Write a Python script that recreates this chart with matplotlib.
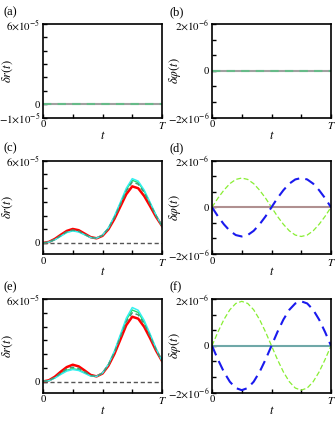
import numpy as np
import matplotlib
matplotlib.use('Agg')
import matplotlib.pyplot as plt

plt.rcParams['font.family'] = 'Liberation Serif'
plt.rcParams['mathtext.fontset'] = 'stix'

# time axis (units of T)
t = np.linspace(0, 1, 21)

# delta r(t) curves, units of 1e-5
red_c = [0, 0.08, 0.3, 0.6, 0.88, 1.02, 0.93, 0.68, 0.43, 0.34, 0.52, 1.0, 1.75, 2.65, 3.55, 4.12, 3.98, 3.42, 2.68, 1.9, 1.24]
cyan_c = [0, 0.06, 0.24, 0.5, 0.76, 0.88, 0.8, 0.6, 0.4, 0.35, 0.57, 1.1, 1.95, 2.95, 3.98, 4.68, 4.5, 3.85, 2.95, 2.02, 1.24]
green_c = [0, 0.065, 0.25, 0.52, 0.79, 0.9, 0.83, 0.62, 0.4, 0.35, 0.56, 1.08, 1.9, 2.88, 3.88, 4.56, 4.4, 3.77, 2.9, 2.0, 1.24]
dash_c = [0, 0.07, 0.27, 0.55, 0.82, 0.94, 0.86, 0.64, 0.41, 0.35, 0.55, 1.05, 1.85, 2.8, 3.78, 4.44, 4.28, 3.68, 2.84, 1.97, 1.24]

red_e = [0, 0.09, 0.35, 0.72, 1.05, 1.22, 1.1, 0.8, 0.48, 0.37, 0.58, 1.15, 2.0, 3.05, 4.1, 4.71, 4.57, 3.98, 3.15, 2.25, 1.49]
cyan_e = [0, 0.06, 0.25, 0.52, 0.76, 0.87, 0.8, 0.6, 0.4, 0.37, 0.62, 1.25, 2.2, 3.4, 4.6, 5.38, 5.18, 4.45, 3.45, 2.4, 1.49]
green_e = [0, 0.065, 0.27, 0.56, 0.82, 0.93, 0.85, 0.63, 0.41, 0.37, 0.61, 1.22, 2.15, 3.32, 4.48, 5.2, 5.02, 4.32, 3.38, 2.36, 1.49]
dash_e = [0, 0.07, 0.3, 0.62, 0.92, 1.04, 0.95, 0.7, 0.44, 0.37, 0.6, 1.2, 2.1, 3.22, 4.35, 5.0, 4.85, 4.2, 3.3, 2.32, 1.49]

# delta phi(t) curves, units of 1e-6
green_d = [0, 0.39, 0.73, 1.01, 1.19, 1.25, 1.19, 1.01, 0.73, 0.39, 0, -0.39, -0.73, -1.01, -1.19, -1.25, -1.19, -1.01, -0.73, -0.39, 0]
blue_d = [0, -0.39, -0.73, -1.01, -1.19, -1.25, -1.19, -1.01, -0.73, -0.39, 0, 0.39, 0.73, 1.01, 1.19, 1.25, 1.19, 1.01, 0.73, 0.39, 0]
green_f = [0, 0.59, 1.12, 1.54, 1.81, 1.9, 1.81, 1.54, 1.12, 0.59, 0, -0.59, -1.12, -1.54, -1.81, -1.9, -1.81, -1.54, -1.12, -0.59, 0]
blue_f = [0, -0.59, -1.12, -1.54, -1.81, -1.9, -1.81, -1.54, -1.12, -0.59, 0, 0.59, 1.12, 1.54, 1.81, 1.9, 1.81, 1.54, 1.12, 0.59, 0]

zero = np.zeros(len(t))

panel_labels = ['(a)', '(b)', '(c)', '(d)', '(e)', '(f)']

fig = plt.figure(figsize=(3.35, 4.22), dpi=100)
W, H = 335., 422.
lefts = [43, 212]
tops = [24, 160.5, 299]
aw, ah = 119, 93.5

axes = []
for r in range(3):
    for c in range(2):
        ax = fig.add_axes([lefts[c] / W, 1 - (tops[r] + ah) / H, aw / W, ah / H])
        axes.append(ax)


def style_r(ax, ymin, show_min):
    ax.set_ylim(ymin, 6e-5)
    ticks = np.arange(-1, 7) * 1e-5
    labels = [r'$-1{\times}10^{-5}$', '0', '', '', '', '', '', r'$6{\times}10^{-5}$']
    if not show_min:
        ticks = ticks[1:]
        labels = labels[1:]
    ax.set_yticks(ticks)
    ax.set_yticklabels(labels)
    ax.set_ylabel(r'$\delta r(t)$', fontsize=9)
    ax.yaxis.set_label_coords(-0.235, 0.5)


def style_p(ax):
    ax.set_ylim(-2e-6, 2e-6)
    ax.set_yticks(np.linspace(-2e-6, 2e-6, 7))
    ax.set_yticklabels([r'$-2{\times}10^{-6}$', '', '', '0', '', '', r'$2{\times}10^{-6}$'])
    ax.set_ylabel(r'$\delta\varphi(t)$', fontsize=9)
    ax.yaxis.set_label_coords(-0.245, 0.5)


for i, ax in enumerate(axes):
    ax.set_xlim(0, 1)
    ax.set_xticks([0, 0.25, 0.5, 0.75, 1])
    ax.set_xticklabels(['0', '', '', '', r'$T$'])
    ax.set_xlabel(r'$t$', fontsize=9, labelpad=-1)
    ax.tick_params(direction='in', length=3, width=1, labelsize=7.8, pad=2)
    for s in ax.spines.values():
        s.set_linewidth(1.2)
    if i == 0:
        style_r(ax, -1e-5, True)
    elif i % 2 == 0:
        style_r(ax, -0.8e-5, False)
    else:
        style_p(ax)
    x0 = 3 / W if i % 2 == 0 else 170 / W
    y0 = 1 - (tops[i // 2] - 12) / H
    fig.text(x0, y0, panel_labels[i], fontsize=9, va='center', ha='left')

s5 = 1e-5
s6 = 1e-6

# (a)
ax = axes[0]
ax.plot(t, zero, color='#a0a0a0', lw=1.5)
ax.plot(t, zero, color='#66bb88', lw=1.5, dashes=(4, 3))

# (b)
ax = axes[1]
ax.plot(t, zero, color='#a0a0a0', lw=1.5)
ax.plot(t, zero, color='#66bb88', lw=1.5, dashes=(4, 3))

# (c)
ax = axes[2]
ax.plot(t, zero, color='#555555', lw=1.0, dashes=(3, 2))
ax.plot(t, np.array(green_c) * s5, color='#22dd66', lw=1.0)
ax.plot(t, np.array(red_c) * s5, color='red', lw=1.8)
ax.plot(t, np.array(cyan_c) * s5, color='#33f0f0', lw=1.1)
ax.plot(t, np.array(dash_c) * s5, color='#449977', lw=1.1, dashes=(3, 2))

# (d)
ax = axes[3]
ax.plot(t, zero, color='#b09090', lw=1.5)
ax.plot(t, np.array(green_d) * s6, color='#88ee33', lw=0.9, dashes=(4, 2))
ax.plot(t, np.array(blue_d) * s6, color='#1a1aee', lw=1.5, dashes=(5, 3))

# (e)
ax = axes[4]
ax.plot(t, zero, color='#555555', lw=1.0, dashes=(3, 2))
ax.plot(t, np.array(green_e) * s5, color='#22dd66', lw=1.0)
ax.plot(t, np.array(red_e) * s5, color='red', lw=1.8)
ax.plot(t, np.array(cyan_e) * s5, color='#33f0f0', lw=1.1)
ax.plot(t, np.array(dash_e) * s5, color='#449977', lw=1.1, dashes=(3, 2))

# (f)
ax = axes[5]
ax.plot(t, zero, color='#6fa8a8', lw=1.5)
ax.plot(t, np.array(green_f) * s6, color='#88ee33', lw=0.9, dashes=(4, 2))
ax.plot(t, np.array(blue_f) * s6, color='#1a1aee', lw=1.5, dashes=(5, 3))

fig.savefig('out.png', dpi=100)
